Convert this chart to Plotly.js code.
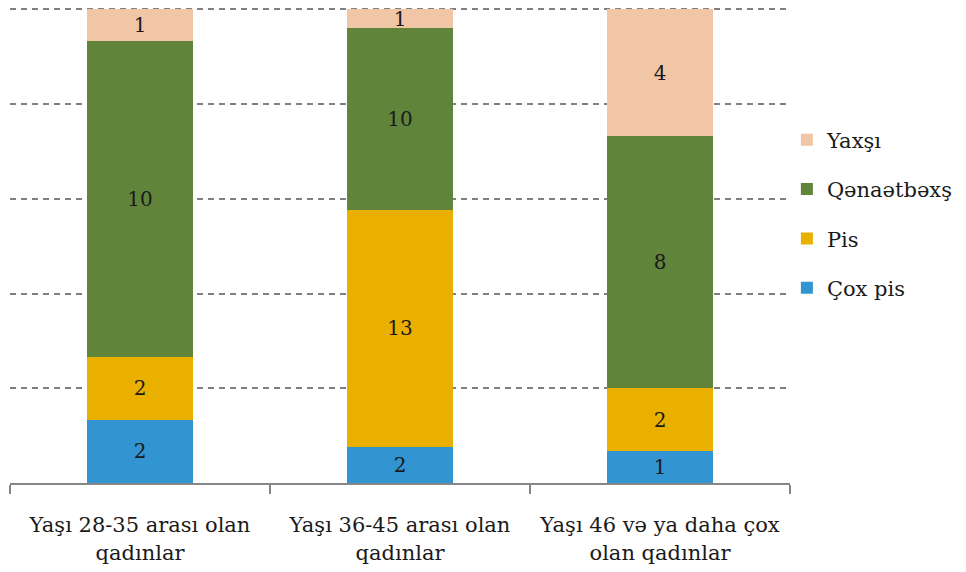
<!DOCTYPE html>
<html>
<head>
<meta charset="utf-8">
<script src="https://cdn.plot.ly/plotly-3.0.1.min.js"></script>
<style>html,body{margin:0;padding:0;background:#fff;}#chart{width:966px;height:572px;}</style>
</head>
<body>
<div id="chart"></div>
<script>
const categories = ["Yaşı 28-35 arası olan<br>qadınlar", "Yaşı 36-45 arası olan<br>qadınlar", "Yaşı 46 və ya daha çox<br>olan qadınlar"];
const coxPis = [2, 2, 1];
const pis = [2, 13, 2];
const qenaetbexs = [10, 10, 8];
const yaxsi = [1, 1, 4];
const seriesNames = ["Çox pis", "Pis", "Qənaətbəxş", "Yaxşı"];
const seriesColors = ["#3294D0", "#E9B000", "#5F843A", "#F1C6A6"];
const seriesData = [coxPis, pis, qenaetbexs, yaxsi];

const FONT = "'DejaVu Serif', serif";

const traces = seriesData.map((vals, i) => ({
  type: "bar",
  name: seriesNames[i],
  legendgroup: "g" + i,
  legendrank: 10 - i,
  x: categories,
  y: vals,
  text: vals.map(String),
  texttemplate: "%{text}",
  textposition: "inside",
  insidetextanchor: "middle",
  textangle: 0,
  constraintext: "none",
  textfont: {family: FONT, size: 20, color: "#1a1a1a"},
  marker: {color: seriesColors[i], line: {width: 0}},
  hoverinfo: "none"
}));

const layout = {
  width: 966, height: 572,
  margin: {l: 10, r: 176, t: 8, b: 89, autoexpand: false},
  barmode: "stack",
  barnorm: "percent",
  bargap: 0.596,
  paper_bgcolor: "#fff",
  plot_bgcolor: "#fff",
  showlegend: true,
  legend: {
    x: 0.996, xanchor: "left", y: 0.765, yanchor: "top",
    traceorder: "grouped",
    tracegroupgap: 19,
    font: {family: FONT, size: 21, color: "#1a1a1a"},
    itemwidth: 30
  },
  xaxis: {
    type: "category",
    showline: true, linecolor: "#868686", linewidth: 2,
    ticks: "outside", tickson: "boundaries", ticklen: 9, tickwidth: 2, tickcolor: "#868686",
    tickfont: {family: FONT, size: 21, color: "#1a1a1a"},
    ticklabelstandoff: 22,
    showgrid: false
  },
  yaxis: {
    range: [0, 100.3],
    dtick: 20,
    showticklabels: false,
    showgrid: true, gridcolor: "#808080", gridwidth: 2, griddash: "6px,5px",
    zeroline: false, showline: false, ticks: ""
  }
};

Plotly.newPlot("chart", traces, layout, {displayModeBar: false, staticPlot: true});
</script>
</body>
</html>
